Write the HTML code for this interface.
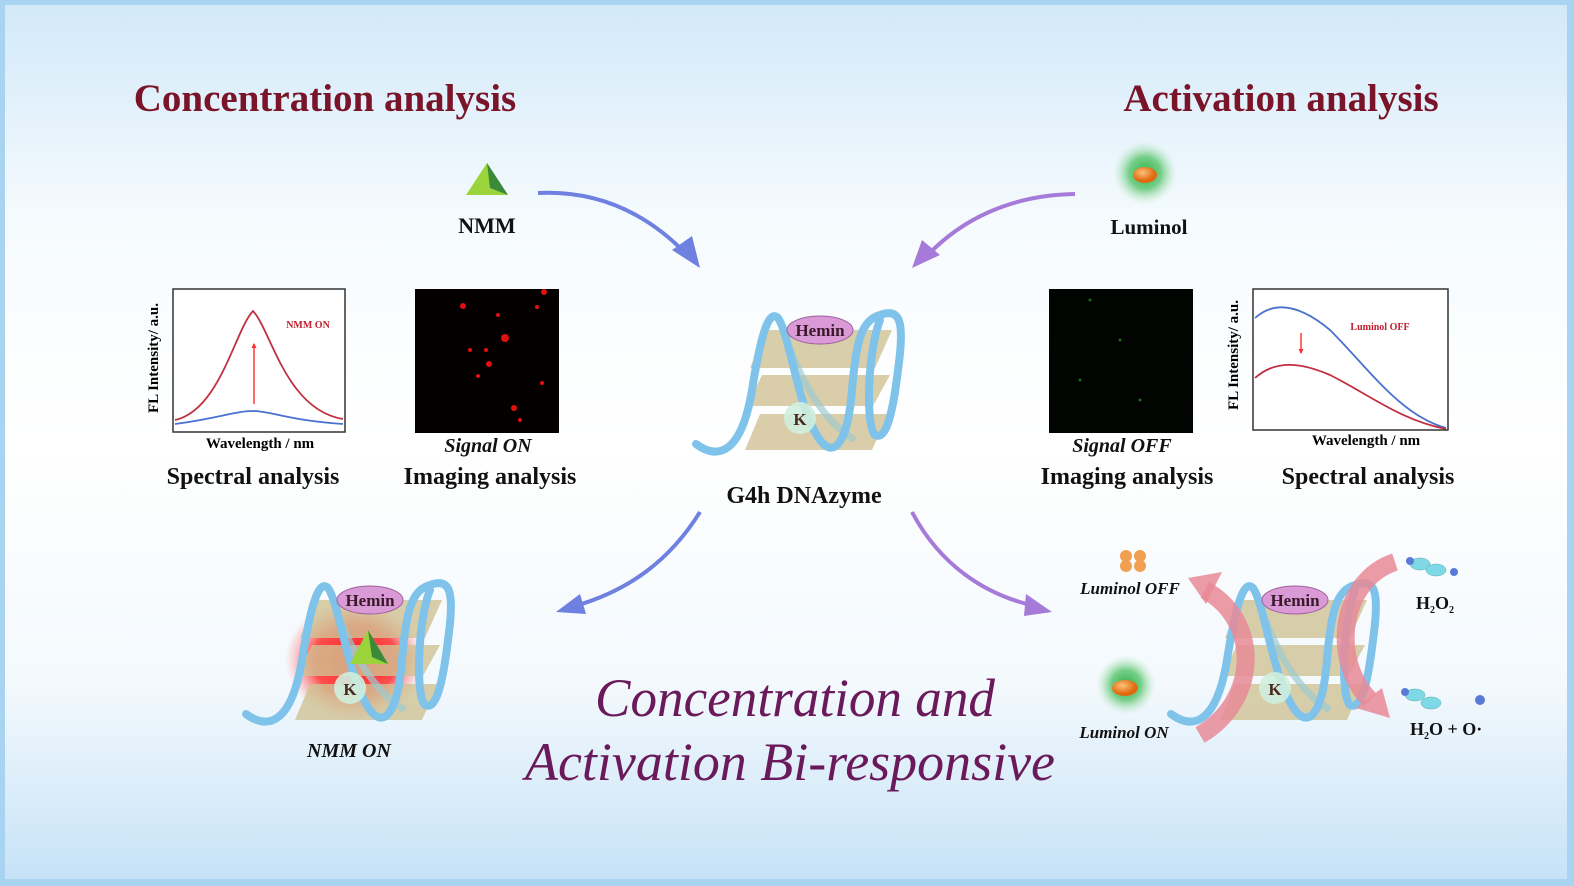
<!DOCTYPE html>
<html><head><meta charset="utf-8"><style>
html,body{margin:0;padding:0}
body{width:1574px;height:886px;overflow:hidden;background:#fff}
svg{display:block}
</style></head><body>
<svg width="1574" height="886" viewBox="0 0 1574 886" xmlns="http://www.w3.org/2000/svg" font-family="Liberation Serif, serif">
<defs>
<linearGradient id="bgv" x1="0" y1="0" x2="0" y2="1">
<stop offset="0" stop-color="#d2e9f9"/><stop offset="0.25" stop-color="#f6fbfe"/><stop offset="0.5" stop-color="#ffffff"/><stop offset="0.78" stop-color="#f3f9fd"/><stop offset="1" stop-color="#c6e2f7"/>
</linearGradient>
<radialGradient id="glowG"><stop offset="0" stop-color="#2fb04a"/><stop offset="0.5" stop-color="#56c46a" stop-opacity="0.8"/><stop offset="1" stop-color="#bfe8c6" stop-opacity="0"/></radialGradient>
<radialGradient id="glowR"><stop offset="0" stop-color="#ff1a1a"/><stop offset="0.6" stop-color="#ff3030" stop-opacity="0.85"/><stop offset="1" stop-color="#ff8080" stop-opacity="0"/></radialGradient>
<radialGradient id="ora" cx="0.4" cy="0.35"><stop offset="0" stop-color="#ffc27a"/><stop offset="1" stop-color="#e06a10"/></radialGradient>
<marker id="ah" viewBox="0 0 10 10" refX="8" refY="5" markerWidth="3.5" markerHeight="3.5" orient="auto"><path d="M0,0L10,5L0,10z" fill="#ff2a2a"/></marker>
<g id="g4">
<path d="M85,40 L212,40 L195,78 L70,78z" fill="#cfc293" opacity="0.8"/>
<path d="M82,85 L210,85 L193,116 L67,116z" fill="#cfc293" opacity="0.8"/>
<path d="M80,124 L208,124 L192,160 L65,160z" fill="#cfc293" opacity="0.8"/>
<path d="M100,30 C115,80 140,130 175,150" stroke="#9ccbd0" stroke-width="7" fill="none" opacity="0.7"/>
<path d="M16,154 C40,172 62,160 72,100 C80,50 88,18 98,28 C110,45 118,120 140,150 C155,170 168,150 172,100 C176,50 182,30 200,25 C220,18 225,30 218,80 C212,130 205,150 195,145 C185,135 188,60 200,30" stroke="#7fc3ea" stroke-width="8" fill="none" stroke-linecap="round"/>
<ellipse cx="140" cy="40" rx="33" ry="14" fill="#d99ad6" stroke="#a060a0" stroke-width="1"/>
<text x="140" y="46" text-anchor="middle" font-size="17" font-weight="bold" fill="#3a1a2a">Hemin</text>
<circle cx="120" cy="128" r="16" fill="#cfeede" opacity="0.9"/>
<text x="120" y="135" text-anchor="middle" font-size="17" font-weight="bold" fill="#4a2a20">K</text>
</g>
</defs>
<rect x="0" y="0" width="1574" height="886" fill="#a8d4f2"/>
<rect x="5" y="5" width="1562" height="874" fill="url(#bgv)"/>

<text x="325" y="111" text-anchor="middle" font-size="39" font-weight="bold" fill="#7a1428">Concentration analysis</text>
<text x="1281" y="111" text-anchor="middle" font-size="39" font-weight="bold" fill="#7a1428">Activation analysis</text>

<path d="M487,163 L508,195 L466,195z" fill="#9ad43a"/><path d="M487,163 L508,195 L490,188z" fill="#3a8a3a"/>
<text x="487" y="233" text-anchor="middle" font-size="22" font-weight="bold" fill="#111">NMM</text>
<circle cx="1145" cy="173" r="32" fill="url(#glowG)"/>
<ellipse cx="1145" cy="175" rx="12" ry="8" fill="url(#ora)"/>
<text x="1149" y="234" text-anchor="middle" font-size="21" font-weight="bold" fill="#111">Luminol</text>

<path d="M538,193 C600,190 650,215 690,258" stroke="#6e80e0" stroke-width="4" fill="none"/>
<path d="M700,268 L672,250 L692,236z" fill="#6e80e0"/>
<path d="M1075,194 C1010,195 960,220 925,258" stroke="#a67ad8" stroke-width="4" fill="none"/>
<path d="M912,268 L922,240 L940,255z" fill="#a67ad8"/>
<path d="M700,512 C670,560 630,590 575,606" stroke="#6e80e0" stroke-width="4" fill="none"/>
<path d="M556,612 L580,594 L586,614z" fill="#6e80e0"/>
<path d="M912,512 C940,565 985,595 1035,606" stroke="#a67ad8" stroke-width="4" fill="none"/>
<path d="M1052,612 L1026,594 L1024,616z" fill="#a67ad8"/>

<rect x="173" y="289" width="172" height="143" fill="#fff" stroke="#333" stroke-width="1.5"/>
<path d="M175,420 C220,410 235,330 253,311 C271,330 286,410 343,419" stroke="#c03040" stroke-width="1.8" fill="none"/>
<path d="M175,424 C220,418 235,411 253,411 C271,411 286,420 343,424" stroke="#4a70d0" stroke-width="1.8" fill="none"/>
<line x1="254" y1="404" x2="254" y2="344" stroke="#ff3a3a" stroke-width="1.5" marker-end="url(#ah)"/>
<text x="308" y="328" text-anchor="middle" font-size="10" font-weight="bold" fill="#c02030">NMM ON</text>
<text x="158" y="358" text-anchor="middle" font-size="15" font-weight="bold" transform="rotate(-90 158 358)">FL Intensity/ a.u.</text>
<text x="260" y="448" text-anchor="middle" font-size="15" font-weight="bold">Wavelength / nm</text>
<text x="253" y="484" text-anchor="middle" font-size="24" font-weight="bold" fill="#111">Spectral analysis</text>
<rect x="415" y="289" width="144" height="144" fill="#050000"/>
<g fill="#e01010">
<circle cx="463" cy="306" r="3"/><circle cx="544" cy="292" r="3"/><circle cx="537" cy="307" r="2"/><circle cx="505" cy="338" r="4"/><circle cx="489" cy="364" r="3"/><circle cx="486" cy="350" r="2"/><circle cx="478" cy="376" r="2"/><circle cx="514" cy="408" r="3"/><circle cx="542" cy="383" r="2"/><circle cx="498" cy="315" r="2"/><circle cx="470" cy="350" r="2"/><circle cx="520" cy="420" r="2"/>
</g>
<text x="488" y="452" text-anchor="middle" font-size="20" font-style="italic" font-weight="bold" fill="#111">Signal ON</text>
<text x="490" y="484" text-anchor="middle" font-size="24" font-weight="bold" fill="#111">Imaging analysis</text>

<use href="#g4" transform="translate(680,290)"/>
<text x="804" y="503" text-anchor="middle" font-size="24" font-weight="bold" fill="#111">G4h DNAzyme</text>

<rect x="1049" y="289" width="144" height="144" fill="#020402"/>
<g fill="#1a6a1a"><circle cx="1090" cy="300" r="1.5"/><circle cx="1120" cy="340" r="1.5"/><circle cx="1080" cy="380" r="1.5"/><circle cx="1140" cy="400" r="1.5"/></g>
<text x="1122" y="452" text-anchor="middle" font-size="20" font-style="italic" font-weight="bold" fill="#111">Signal OFF</text>
<text x="1127" y="484" text-anchor="middle" font-size="24" font-weight="bold" fill="#111">Imaging analysis</text>

<rect x="1253" y="289" width="195" height="141" fill="#fff" stroke="#333" stroke-width="1.5"/>
<path d="M1255,318 C1275,300 1300,305 1330,330 C1370,370 1400,415 1446,428" stroke="#4a70d0" stroke-width="1.8" fill="none"/>
<path d="M1255,378 C1275,360 1300,362 1330,375 C1370,395 1400,420 1446,429" stroke="#c03040" stroke-width="1.8" fill="none"/>
<line x1="1301" y1="333" x2="1301" y2="353" stroke="#ff3a3a" stroke-width="1.5" marker-end="url(#ah)"/>
<text x="1380" y="330" text-anchor="middle" font-size="10" font-weight="bold" fill="#c02030">Luminol OFF</text>
<text x="1238" y="355" text-anchor="middle" font-size="15" font-weight="bold" transform="rotate(-90 1238 355)">FL Intensity/ a.u.</text>
<text x="1366" y="445" text-anchor="middle" font-size="15" font-weight="bold">Wavelength / nm</text>
<text x="1368" y="484" text-anchor="middle" font-size="24" font-weight="bold" fill="#111">Spectral analysis</text>

<ellipse cx="355" cy="660" rx="70" ry="60" fill="url(#glowR)"/>
<use href="#g4" transform="translate(230,560)"/>
<path d="M368,630 L388,664 L350,664z" fill="#9ad43a"/><path d="M368,630 L388,664 L372,657z" fill="#3a8a3a"/>
<text x="349" y="757" text-anchor="middle" font-size="20" font-style="italic" font-weight="bold" fill="#111">NMM ON</text>

<text x="795" y="716" text-anchor="middle" font-size="54" font-style="italic" fill="#6a1a5a" textLength="400" lengthAdjust="spacingAndGlyphs">Concentration and</text>
<text x="790" y="780" text-anchor="middle" font-size="54" font-style="italic" fill="#6a1a5a" textLength="530" lengthAdjust="spacingAndGlyphs">Activation Bi-responsive</text>

<use href="#g4" transform="translate(1155,560)"/>
<path d="M1200,735 C1260,700 1260,620 1205,590" stroke="#e88a96" stroke-width="18" fill="none" opacity="0.85"/>
<path d="M1188,578 L1222,572 L1206,604z" fill="#e88a96" opacity="0.85"/>
<path d="M1395,562 C1340,580 1330,660 1370,700" stroke="#e88a96" stroke-width="18" fill="none" opacity="0.85"/>
<path d="M1390,718 L1356,708 L1382,688z" fill="#e88a96" opacity="0.85"/>
<g fill="#f0a050"><circle cx="1126" cy="556" r="6"/><circle cx="1140" cy="556" r="6"/><circle cx="1126" cy="566" r="6"/><circle cx="1140" cy="566" r="6"/></g>
<text x="1130" y="594" text-anchor="middle" font-size="17" font-style="italic" font-weight="bold" fill="#111">Luminol OFF</text>
<circle cx="1126" cy="685" r="30" fill="url(#glowG)"/>
<ellipse cx="1125" cy="688" rx="13" ry="8" fill="url(#ora)"/>
<text x="1124" y="738" text-anchor="middle" font-size="17" font-style="italic" font-weight="bold" fill="#111">Luminol ON</text>
<g fill="#7fd8e6" stroke="#5aa" stroke-width="0.5"><ellipse cx="1420" cy="564" rx="10" ry="6"/><ellipse cx="1436" cy="570" rx="10" ry="6"/></g>
<g fill="#5a7ad8"><circle cx="1410" cy="561" r="4"/><circle cx="1454" cy="572" r="4"/></g>
<text x="1435" y="609" text-anchor="middle" font-size="18" font-weight="bold" fill="#111">H<tspan font-size="10" dy="4">2</tspan><tspan dy="-4">O</tspan><tspan font-size="10" dy="4">2</tspan></text>
<g fill="#7fd8e6" stroke="#5aa" stroke-width="0.5"><ellipse cx="1415" cy="695" rx="10" ry="6"/><ellipse cx="1431" cy="703" rx="10" ry="6"/></g>
<g fill="#5a7ad8"><circle cx="1405" cy="692" r="4"/><circle cx="1480" cy="700" r="5"/></g>
<text x="1410" y="735" font-size="18" font-weight="bold" fill="#111">H<tspan font-size="10" dy="4">2</tspan><tspan dy="-4">O +  O·</tspan></text>
</svg>
</body></html>
